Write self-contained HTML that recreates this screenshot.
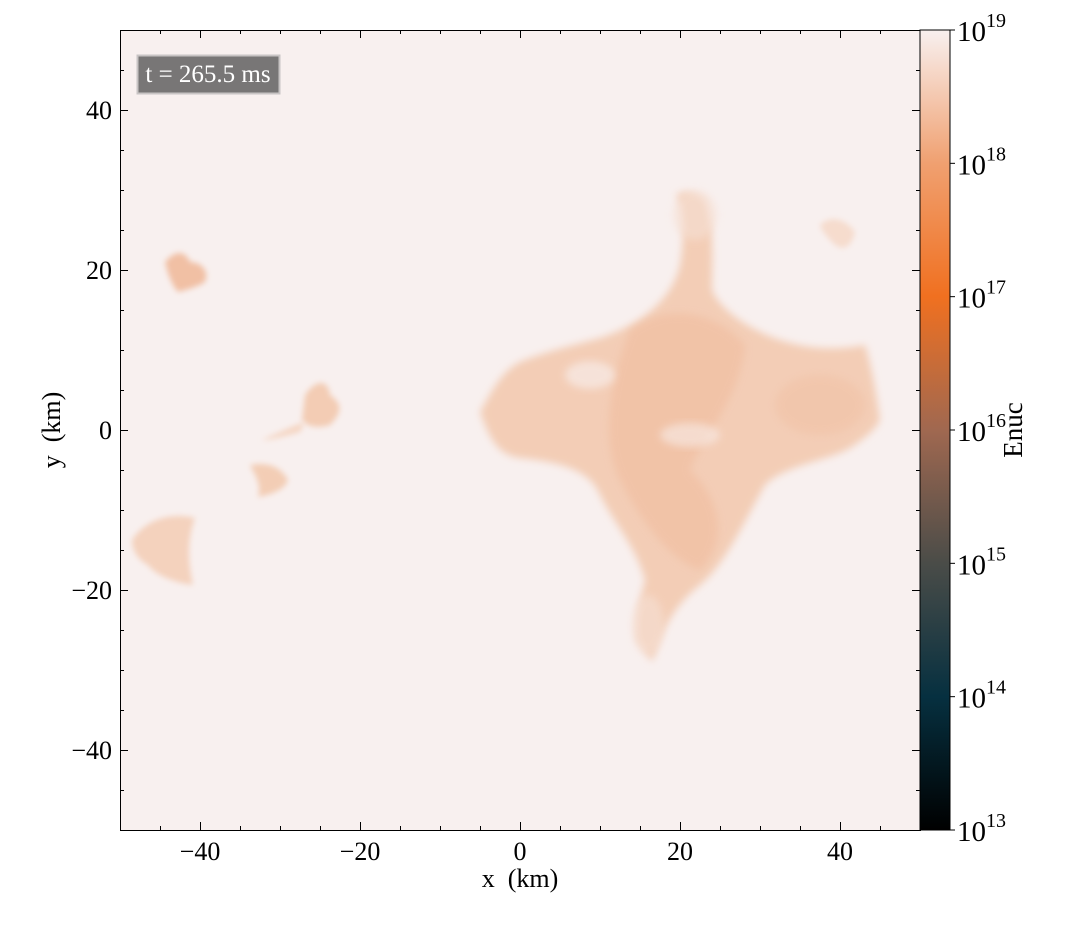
<!DOCTYPE html>
<html><head><meta charset="utf-8">
<style>
html,body{margin:0;padding:0;background:#fff;}
svg text{font-family:"Liberation Serif",serif;fill:#000;}
</style></head>
<body>
<svg id="chart" width="1085" height="920" xmlns="http://www.w3.org/2000/svg">
<defs>
<linearGradient id="cmap" x1="0" y1="1" x2="0" y2="0">
<stop offset="0" stop-color="#000000"/>
<stop offset="0.1667" stop-color="#063040"/>
<stop offset="0.3333" stop-color="#4a4c48"/>
<stop offset="0.5" stop-color="#a06850"/>
<stop offset="0.6667" stop-color="#f07020"/>
<stop offset="0.8333" stop-color="#f0a070"/>
<stop offset="1" stop-color="#f8f0ef"/>
</linearGradient>
<filter id="soft" x="-20%" y="-20%" width="140%" height="140%"><feGaussianBlur stdDeviation="4"/></filter>
<filter id="soft2" x="-50%" y="-50%" width="200%" height="200%"><feGaussianBlur stdDeviation="3"/></filter>
<clipPath id="plotclip"><rect x="120" y="30" width="800" height="800"/></clipPath>
</defs>
<rect x="120" y="30" width="800" height="800" fill="#f8f0ef"/>
<g id="field" clip-path="url(#plotclip)">
<path fill="#f3cdb6" d="M676,195 C682,200 686,230 680,265 C672,300 640,325 600,338 C570,346 545,352 520,362 C500,372 490,395 480,412 C490,440 498,455 520,458 C560,462 590,470 600,495 C615,525 635,545 645,580 C640,600 635,615 637,640 L652,662 C660,640 668,610 700,585 C725,565 745,520 765,485 C785,465 830,460 850,448 C865,438 875,430 880,420 C876,390 870,360 865,345 C840,350 810,350 780,340 C750,330 720,310 712,290 C712,260 715,230 705,200 C695,192 685,190 676,195 Z" filter="url(#soft)"/>
<path fill="#f0bb9c" opacity="0.55" d="M630,330 C670,300 720,315 745,345 C740,400 700,440 690,470 C720,500 730,540 700,570 C670,560 640,520 620,480 C600,440 610,380 630,330 Z" filter="url(#soft)"/>
<ellipse cx="820" cy="405" rx="45" ry="30" fill="#f0bfa2" opacity="0.45" filter="url(#soft)"/>
<ellipse cx="590" cy="375" rx="25" ry="14" fill="#f8ece8" opacity="0.7" filter="url(#soft)"/>
<ellipse cx="690" cy="435" rx="30" ry="12" fill="#f8ece8" opacity="0.6" filter="url(#soft)"/>
<ellipse cx="695" cy="215" rx="22" ry="25" fill="#f6e0d4" opacity="0.6" filter="url(#soft)"/>
<ellipse cx="648" cy="625" rx="16" ry="30" fill="#f6e0d4" opacity="0.6" filter="url(#soft)"/>
<path fill="#f1c0a4" d="M165,262 C175,250 185,250 190,262 C200,262 210,270 205,282 C195,288 185,290 178,292 C172,285 168,275 165,262 Z" filter="url(#soft2)"/>
<path fill="#f3ccb4" d="M305,395 C315,380 328,378 330,395 C345,405 340,415 330,425 C320,428 308,428 302,420 Z" filter="url(#soft2)"/>
<path fill="#f5d5c2" d="M262,440 C280,432 295,425 305,422 L300,432 C285,436 272,440 262,440 Z" filter="url(#soft2)"/>
<path fill="#f3cdb5" d="M250,465 C265,462 280,465 288,480 C285,490 270,495 258,497 C262,485 255,475 250,465 Z" filter="url(#soft2)"/>
<path fill="#f4d2bd" d="M132,540 C145,520 170,512 195,518 C185,545 190,570 193,585 C175,583 155,575 148,565 C138,560 132,550 132,540 Z" filter="url(#soft2)"/>
<path fill="#f6dccd" d="M820,225 C830,215 845,218 855,232 C852,245 845,252 835,245 C828,238 822,232 820,225 Z" filter="url(#soft2)"/>
</g>
<rect x="120.5" y="30.5" width="800" height="800" fill="none" stroke="#000" stroke-width="1"/>
<g id="axes"></g>
<g>
<rect x="137.5" y="55.5" width="142" height="38" fill="#787676" stroke="#c8c4c4" stroke-width="2"/>
<text x="208" y="82" font-size="25" text-anchor="middle" style="fill:#fff">t = 265.5 ms</text>
</g>
<rect x="920" y="30" width="30" height="800" fill="url(#cmap)" stroke="#000" stroke-width="1"/>
<g id="cbar"></g>
<text x="520" y="887" font-size="26" text-anchor="middle" xml:space="preserve">x  (km)</text>
<text x="60" y="430" font-size="26" text-anchor="middle" transform="rotate(-90 60 430)" xml:space="preserve">y  (km)</text>
<text x="1022" y="430" font-size="27" text-anchor="middle" transform="rotate(-90 1022 430)">Enuc</text>
</svg>
<script>
const xTicks = [-40, -20, 0, 20, 40];
const yTicks = [-40, -20, 0, 20, 40];
const minorStep = 5;
const axisMin = -50, axisMax = 50;
const cbarExponents = [13, 14, 15, 16, 17, 18, 19];
const NS = 'http://www.w3.org/2000/svg';
const X0 = 120, Y0 = 30, W = 800, H = 800;
function sx(v){ return X0 + (v - axisMin) / (axisMax - axisMin) * W; }
function sy(v){ return Y0 + H - (v - axisMin) / (axisMax - axisMin) * H; }
function mk(tag, attrs, parent){ const e = document.createElementNS(NS, tag); for (const k in attrs) e.setAttribute(k, attrs[k]); parent.appendChild(e); return e; }
const axes = document.getElementById('axes');
function lbl(v){ return v < 0 ? '\u2212' + Math.abs(v) : String(v); }
for (let v = axisMin; v <= axisMax; v += minorStep) {
  const major = v % 20 === 0;
  const L = major ? 8 : 4;
  const px = sx(v) + 0.5, py = sy(v) + 0.5;
  const t = mk('path', {d: `M${px},${Y0+H} v${-L} M${px},${Y0} v${L} M${X0},${py} h${L} M${X0+W},${py} h${-L}`, stroke: '#000', 'stroke-width': 1}, axes);
  
  
}
xTicks.forEach(v => {
  const t = mk('text', {x: sx(v), y: 860, 'font-size': 26, 'text-anchor': 'middle'}, axes);
  t.textContent = lbl(v);
  
  
});
yTicks.forEach(v => {
  const t = mk('text', {x: 112, y: sy(v) + 9, 'font-size': 26, 'text-anchor': 'end'}, axes);
  t.textContent = lbl(v);
  
  
});
const cbar = document.getElementById('cbar');
const eMin = cbarExponents[0], eMax = cbarExponents[cbarExponents.length - 1];
function cy(e){ return Y0 + H - (e - eMin) / (eMax - eMin) * H; }
cbarExponents.forEach(e => {
  const y = cy(e);
  const tk = mk('line', {x1: 950, x2: 955, y1: y, y2: y, stroke: '#000', 'stroke-width': 1}, cbar);
  
  
  const t = mk('text', {x: 957, y: y + 11, 'font-size': 29}, cbar);
  
  
  t.appendChild(document.createTextNode('10'));
  const s = mk('tspan', {dy: -14, 'font-size': 20}, t);
  s.textContent = String(e);
});
</script>
</body></html>
